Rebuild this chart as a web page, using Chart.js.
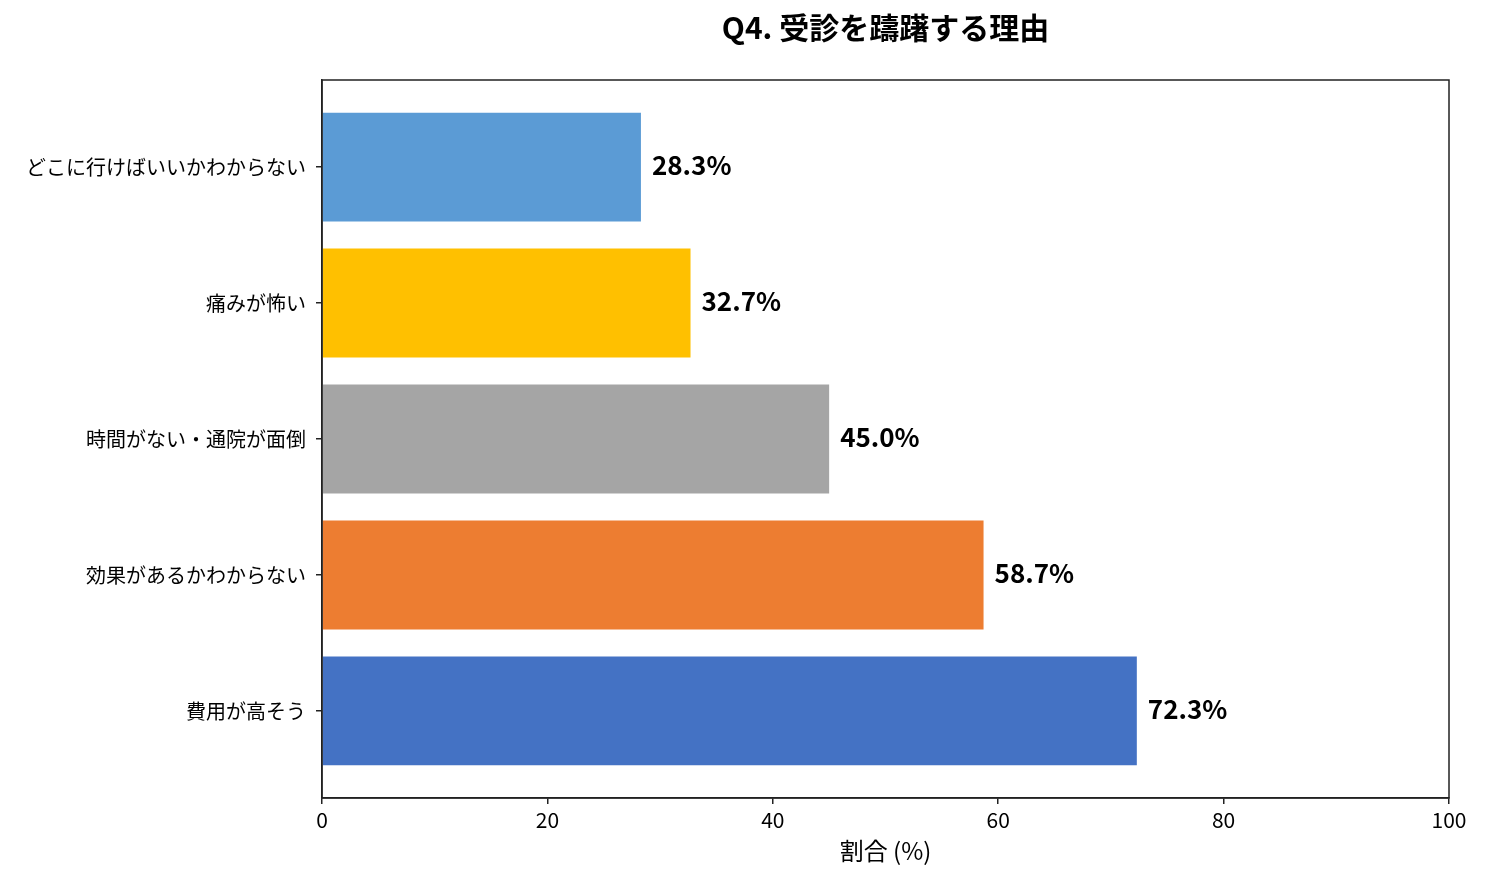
<!DOCTYPE html>
<html>
<head>
<meta charset="utf-8">
<script src="https://cdn.jsdelivr.net/npm/chart.js@4"></script>
<style>
  html, body { margin: 0; padding: 0; background: #fff; }
  #wrap { width: 1485px; height: 881px; }
</style>
</head>
<body>
<div id="wrap"><canvas id="chart" width="1485" height="881"></canvas></div>
<script>
// ── DATA (bottom → top, matplotlib-style order) ─────────────────────────────
const categories = ['費用が高そう', '効果があるかわからない', '時間がない・通院が面倒', '痛みが怖い', 'どこに行けばいいかわからない'];
const values     = [72.3, 58.7, 45.0, 32.7, 28.3];
const barColors  = ['#4472C4', '#ED7D31', '#A5A5A5', '#FFC000', '#5B9BD5'];
const xTicks     = [0, 20, 40, 60, 80, 100];

const FONT = "'Noto Sans CJK JP', 'Noto Sans', sans-serif";
const AXIS = '#222222';

// ── PLUGINS ─────────────────────────────────────────────────────────────────

/** Draws the full frame (spines), the chart title and the x axis title. */
const frame = {
  id: 'frame',
  afterDraw(chart) {
    const { ctx, chartArea: a } = chart;
    ctx.save();
    ctx.strokeStyle = AXIS;
    ctx.lineWidth = 1.5;
    ctx.strokeRect(a.left, a.top, a.right - a.left, a.bottom - a.top);
    ctx.fillStyle = '#000';
    ctx.textAlign = 'center';
    ctx.textBaseline = 'middle';
    ctx.font = `bold 30px ${FONT}`;
    ctx.fillText('Q4. 受診を躊躇する理由', (a.left + a.right) / 2, 28);
    ctx.font = `24px ${FONT}`;
    ctx.fillText('割合 (%)', (a.left + a.right) / 2, 851);
    ctx.restore();
  }
};

/** Percent labels to the right of each bar. */
const valueLabels = {
  id: 'valueLabels',
  afterDatasetsDraw(chart) {
    const { ctx } = chart;
    const meta = chart.getDatasetMeta(0);
    ctx.save();
    ctx.fillStyle = '#000';
    ctx.font = `bold 26px ${FONT}`;
    ctx.textAlign = 'left';
    ctx.textBaseline = 'middle';
    meta.data.forEach((bar, i) => {
      ctx.fillText(values[i].toFixed(1) + '%', bar.x + 11, bar.y - 2);
    });
    ctx.restore();
  }
};

// ── CHART ───────────────────────────────────────────────────────────────────
new Chart(document.getElementById('chart'), {
  type: 'bar',
  data: {
    datasets: [{
      data: values.map((v, i) => ({ x: v, y: i })),
      backgroundColor: barColors,
      borderWidth: 0,
      barPercentage: 0.8,
      categoryPercentage: 1.0,
    }]
  },
  options: {
    indexAxis: 'y',
    responsive: false,
    animation: false,
    layout: { padding: { top: 80, right: 36, left: 0, bottom: 0 } },
    scales: {
      x: {
        type: 'linear',
        min: 0,
        max: 100,
        afterBuildTicks: (axis) => { axis.ticks = xTicks.map(v => ({ value: v })); },
        afterFit: (axis) => { axis.height = 83; },
        grid: { drawOnChartArea: false, drawTicks: true, tickLength: 6, color: AXIS, lineWidth: 1.5 },
        border: { color: AXIS, width: 1.5 },
        ticks: { color: '#000', font: { family: FONT, size: 21 }, padding: 3, maxRotation: 0 },
      },
      y: {
        type: 'linear',
        min: -0.64,
        max: 4.64,
        offset: false,
        afterBuildTicks: (axis) => { axis.ticks = categories.map((c, i) => ({ value: i })); },
        afterFit: (axis) => { axis.width = 322; },
        grid: { offset: false, drawOnChartArea: false, drawTicks: true, tickLength: 6, color: AXIS, lineWidth: 1.5 },
        border: { color: AXIS, width: 1.5 },
        ticks: {
          color: '#000',
          font: { family: FONT, size: 20 },
          padding: 10,
          callback: (v) => categories[v] ?? '',
        },
      },
    },
    plugins: {
      legend: { display: false },
      tooltip: { enabled: false },
    }
  },
  plugins: [frame, valueLabels]
});
</script>
</body>
</html>
